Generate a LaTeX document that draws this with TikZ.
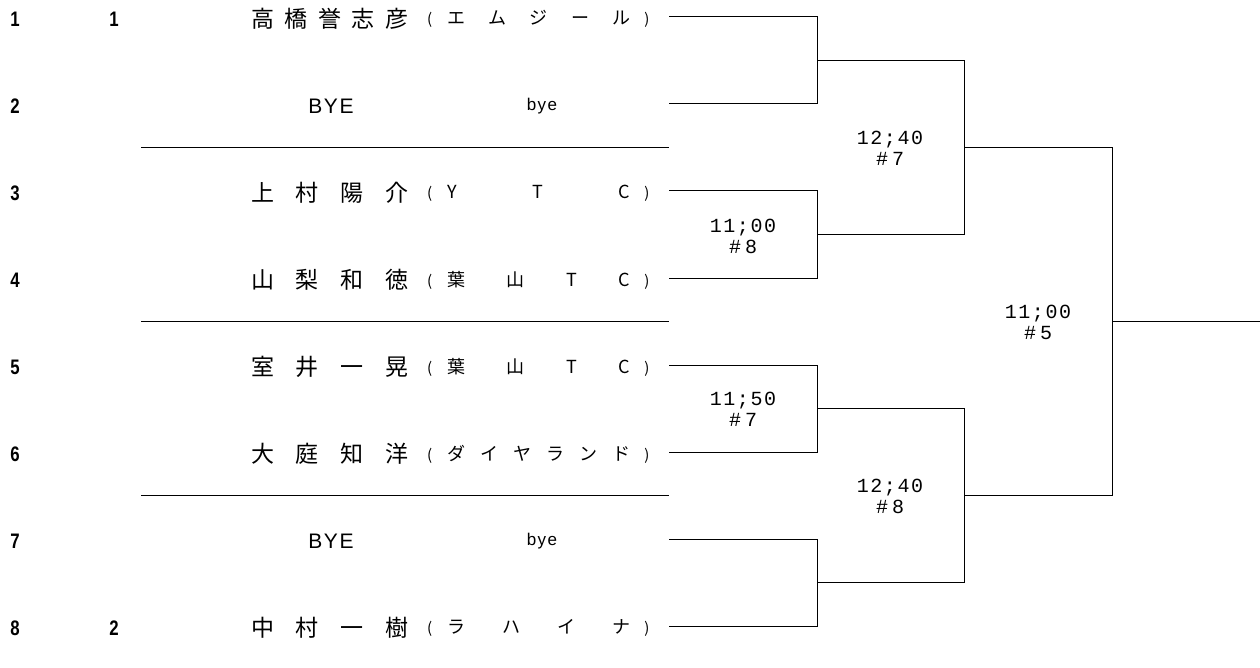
\documentclass[tikz,border=0pt]{standalone}
\usepackage{fontspec}
\setmainfont{Liberation Sans}
\newfontfamily\jpfont{Noto Sans CJK JP}
\newfontfamily\labfont[LetterSpace=8]{Liberation Mono}
\newfontfamily\byefont[LetterSpace=8]{Liberation Sans}
\usetikzlibrary{positioning}
\tikzstyle{rownum} = [font=\bfseries\fontsize{21}{21}\selectfont, inner sep=0pt]
\tikzstyle{player} = [font=\jpfont\fontsize{23}{23}\selectfont, anchor=west, inner sep=0pt]
\tikzstyle{club} = [font=\jpfont\fontsize{18}{18}\selectfont, anchor=west, inner sep=0pt]
\tikzstyle{bye} = [font=\byefont\fontsize{21}{21}\selectfont, inner sep=0pt]
\tikzstyle{byeclub} = [font=\byefont\fontsize{17}{17}\selectfont, inner sep=0pt]
\tikzstyle{match} = [align=center, font=\labfont\fontsize{20}{21}\selectfont, inner sep=0pt]
\tikzstyle{line} = [draw, line width=1pt]
\newcommand{\nm}[1]{\makebox[157pt][s]{#1}}
\newcommand{\rn}[1]{\scalebox{0.8}[1]{#1}}
\newcommand{\gm}[1]{\#\hspace{4pt}#1}
\newcommand{\cb}[1]{{\fontsize{15}{15}\selectfont(}\hspace{15pt}\makebox[183pt][s]{#1}\hspace{14pt}{\fontsize{15}{15}\selectfont)}}

\begin{document}
\begin{tikzpicture}[x=1pt, y=-1pt]
\useasboundingbox (0,0) rectangle (1260,668);
% Place nodes
\foreach \i in {1,...,8} {
  \node [rownum] (n\i) at (15,{17+(\i-1)*87+2}) {\rn{\i}};
  \coordinate (e\i) at (669,{17+(\i-1)*87});
}
\node [rownum] (s1) at (114,19) {\rn{1}};
\node [rownum] (s8) at (114,628) {\rn{2}};
\node [player] (p1) at (251,19) {\nm{高 橋 誉 志 彦}};
\node [club] (c1) at (427,19) {\cb{エ ム ジ ー ル}};
\node [bye] (p2) at (331,106) {BYE};
\node [byeclub] (c2) at (542,106) {bye};
\node [player] (p3) at (251,193) {\nm{上 村 陽 介}};
\node [club] (c3) at (427,193) {\cb{Y T C}};
\node [player] (p4) at (251,280) {\nm{山 梨 和 徳}};
\node [club] (c4) at (427,280) {\cb{葉 山 T C}};
\node [player] (p5) at (251,367) {\nm{室 井 一 晃}};
\node [club] (c5) at (427,367) {\cb{葉 山 T C}};
\node [player] (p6) at (251,454) {\nm{大 庭 知 洋}};
\node [club] (c6) at (427,454) {\cb{ダ イ ヤ ラ ン ド}};
\node [bye] (p7) at (331,541) {BYE};
\node [byeclub] (c7) at (542,541) {bye};
\node [player] (p8) at (251,628) {\nm{中 村 一 樹}};
\node [club] (c8) at (427,628) {\cb{ラ ハ イ ナ}};
% Junctions
\coordinate (j1) at (817,60.5);
\coordinate (j2) at (817,234.5);
\coordinate (j3) at (817,408.5);
\coordinate (j4) at (817,582.5);
\coordinate (k1) at (964,147.5);
\coordinate (k2) at (964,495.5);
\coordinate (f) at (1112,321.5);
\coordinate (w) at (1260,321.5);
\node [match] (m34) at (743,236) {11;00\\\gm{8}};
\node [match] (m56) at (743,409) {11;50\\\gm{7}};
\node [match] (m14) at (890,148) {12;40\\\gm{7}};
\node [match] (m58) at (890,496) {12;40\\\gm{8}};
\node [match] (m18) at (1038,322) {11;00\\\gm{5}};
% Draw edges
\path [line] (e1) -| (j1) |- (e2);
\path [line] (e3) -| (j2) |- (e4);
\path [line] (e5) -| (j3) |- (e6);
\path [line] (e7) -| (j4) |- (e8);
\path [line] (j1) -| (k1) |- (j2);
\path [line] (j3) -| (k2) |- (j4);
\path [line] (k1) -| (f) |- (k2);
\path [line] (f) -- (w);
% Separators
\foreach \y/\n in {147.5/1,321.5/2,495.5/3} {
  \coordinate (a\n) at (141,\y);
  \coordinate (b\n) at (669,\y);
  \path [line] (a\n) -- (b\n);
}
\end{tikzpicture}
\end{document}
